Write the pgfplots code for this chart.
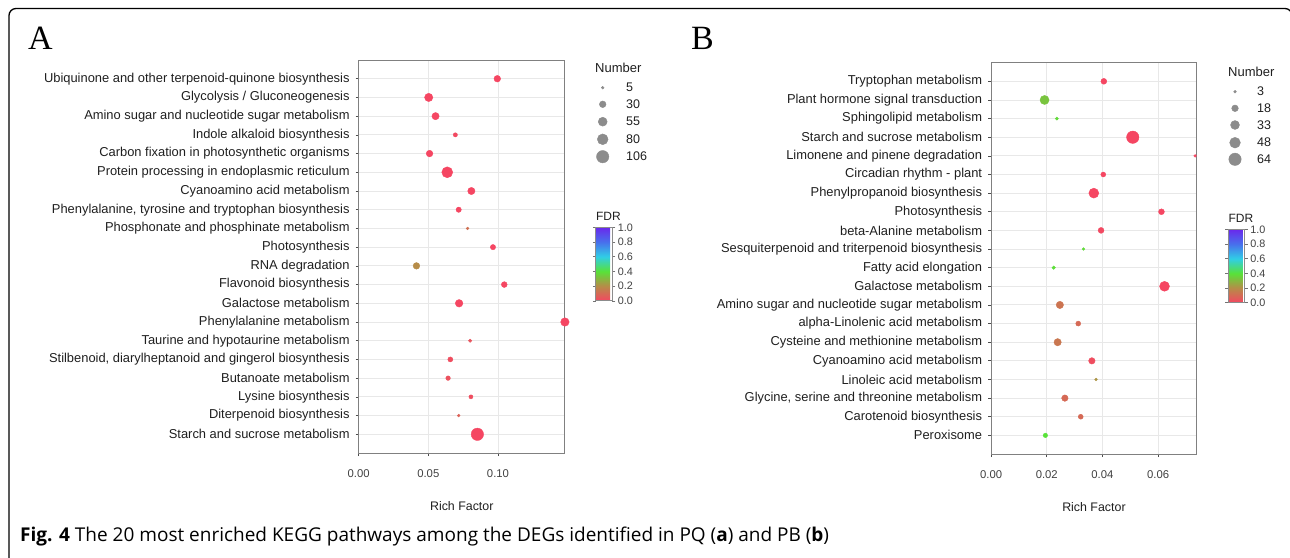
\documentclass[border=0pt]{standalone}
\usepackage{fontspec}
\setmainfont{Liberation Sans}
\newfontfamily\panelfont{Liberation Serif}
\newfontfamily\capfont{Open Sans}
\usepackage{pgfplots}
\usepackage{pgfplotstable}
\pgfplotsset{compat=1.18}

\pgfplotsset{colormap={fdr}{rgb255(0)=(245,70,98) rgb255(1)=(182,140,72) rgb255(2)=(88,226,56) rgb255(3)=(48,206,230) rgb255(4)=(72,112,236) rgb255(5)=(106,40,236)}}

\pgfplotstableread{
row rf n fdr
1 0.0995 30 0.0
2 0.0503 47 0.0
3 0.0552 36 0.0
4 0.0694 12 0.01
5 0.0509 30 0.0
6 0.0636 83 0.0
7 0.0809 36 0.0
8 0.0718 19 0.0
9 0.0782 5 0.12
10 0.0964 19 0.0
11 0.0415 30 0.2
12 0.1045 23 0.0
13 0.0721 39 0.0
14 0.148 49 0.0
15 0.080 7 0.04
16 0.0658 17 0.02
17 0.0642 14 0.03
18 0.0806 11 0.02
19 0.0718 5 0.08
20 0.0852 106 0.0
}\tabA

\pgfplotstableread{
row rf n fdr
1 0.0405 14 0.0
2 0.0192 34 0.33
3 0.0236 4 0.38
4 0.0509 64 0.0
5 0.0733 3 0.0
6 0.0403 10 0.0
7 0.0369 41 0.0
8 0.0612 14 0.0
9 0.0395 14 0.01
10 0.0332 3 0.38
11 0.0225 5 0.39
12 0.0623 41 0.0
13 0.0247 22 0.13
14 0.0313 10 0.1
15 0.0239 22 0.14
16 0.0362 17 0.02
17 0.0377 3 0.22
18 0.0265 17 0.1
19 0.0322 10 0.1
20 0.0195 8 0.4
}\tabB

\pgfplotstableread{
y n
-29.7 5
-46.3 30
-63.7 55
-81.3 80
-98.7 106
}\legA

\pgfplotstableread{
y n
-29.7 3
-46.3 18
-63.0 33
-80.7 48
-97.3 64
}\legB

\pgfplotsset{
  kegg/.style={
    scale only axis,
    y dir=reverse, ymin=0, ymax=21, ytick={1,...,20},
    grid=major,
    major grid style={draw=black!9, line width=0.9pt},
    axis line style={draw=black!50, line width=0.9pt},
    tick style={draw=black!70, line width=0.7pt},
    tick align=outside, major tick length=3pt,
    xtick pos=bottom, ytick pos=left,
    scaled x ticks=false,
    yticklabel style={font=\fontsize{12.9}{14}\selectfont, text=black!88, xshift=-2.5pt},
    xticklabel style={font=\fontsize{11.3}{12}\selectfont, text=black!75, yshift=-10pt},
    xlabel={Rich Factor},
    xlabel style={font=\fontsize{12.4}{14}\selectfont, text=black!88, at={(axis description cs:0.5,0)}, anchor=center, yshift=-53.5pt},
    colormap name=fdr, point meta min=0, point meta max=1,
    clip=false,
    colorbar,
  },
  cbar/.style={
    colorbar style={
      anchor=north west, at={(parent axis.north east)},
      width=16.5pt, height=73.5pt,
      axis line style={draw=black!45, line width=0.8pt},
      ytick={0,0.2,0.4,0.6,0.8,1}, yticklabels={0.0,0.2,0.4,0.6,0.8,1.0},
      yticklabel style={font=\fontsize{10.8}{12}\selectfont, text=black!75, xshift=-1pt},
      tick style={draw=black!55, line width=0.6pt}, major tick length=3pt,
      tick align=outside,
      title={FDR},
      title style={at={(0,1)}, anchor=south west, inner sep=0pt, xshift=0pt, yshift=1pt, font=\fontsize{12}{13}\selectfont, text=black!88},
      #1
    }
  },
  hidelegend/.style={
    hide axis, x=1pt, y=1pt, xmin=0, xmax=60, ymin=-110, ymax=0, anchor=north west, clip=false
  }
}

\begin{document}
\begin{tikzpicture}
\useasboundingbox (0pt,0pt) rectangle (1290pt,557pt);
\draw[line width=1.3pt, rounded corners=7pt] (9pt,-10pt) -- (9pt,548.5pt) -- (1292pt,548.5pt) -- (1292pt,-10pt);

\node[anchor=base west, inner sep=0pt, font=\panelfont\fontsize{34}{36}\selectfont] at (28pt,507pt) {A};
\node[anchor=base west, inner sep=0pt, font=\panelfont\fontsize{34}{36}\selectfont] at (691pt,507pt) {B};

% ---------- Panel A ----------
\begin{axis}[kegg, cbar={xshift=22.4pt, yshift=-167.3pt},
  at={(358.6pt,104pt)}, anchor=south west, width=206.3pt, height=393pt,
  xmin=0, xmax=0.148, xtick={0,0.05,0.10}, xticklabels={0.00,0.05,0.10},
  yticklabels={Ubiquinone and other terpenoid-quinone biosynthesis, Glycolysis / Gluconeogenesis, Amino sugar and nucleotide sugar metabolism, Indole alkaloid biosynthesis, Carbon fixation in photosynthetic organisms, Protein processing in endoplasmic reticulum, Cyanoamino acid metabolism, {Phenylalanine, tyrosine and tryptophan biosynthesis}, Phosphonate and phosphinate metabolism, Photosynthesis, RNA degradation, Flavonoid biosynthesis, Galactose metabolism, Phenylalanine metabolism, Taurine and hypotaurine metabolism, {Stilbenoid, diarylheptanoid and gingerol biosynthesis}, Butanoate metabolism, Lysine biosynthesis, Diterpenoid biosynthesis, Starch and sucrose metabolism}]
\addplot[scatter, only marks, mark=*, scatter src=explicit,
  visualization depends on={\thisrow{n} \as \nn},
  scatter/use mapped color={draw=mapped color, fill=mapped color},
  scatter/@pre marker code/.append style={/tikz/mark size={0.5*(2.8+9.6*(sqrt(\nn)-2.236)/(10.296-2.236))}}]
  table[x=rf, y=row, meta=fdr] {\tabA};
\end{axis}

% size legend A
\begin{axis}[hidelegend, at={(595pt,499pt)}]
\addplot[only marks, mark=*, scatter, point meta=0,
  visualization depends on={\thisrow{n} \as \nn},
  scatter/use mapped color={draw=black!45, fill=black!45},
  scatter/@pre marker code/.append style={/tikz/mark size={0.5*(2.8+9.6*(sqrt(\nn)-2.236)/(10.296-2.236))}}]
  table[x expr=7.7, y=y] {\legA};
\node[anchor=west, inner sep=0pt, font=\fontsize{13}{14}\selectfont, text=black!88] at (axis cs:0,-10) {Number};
\node[anchor=west, inner sep=0pt, font=\fontsize{12.5}{14}\selectfont, text=black!88] at (axis cs:31,-29.7) {5};
\node[anchor=west, inner sep=0pt, font=\fontsize{12.5}{14}\selectfont, text=black!88] at (axis cs:31,-46.3) {30};
\node[anchor=west, inner sep=0pt, font=\fontsize{12.5}{14}\selectfont, text=black!88] at (axis cs:31,-63.7) {55};
\node[anchor=west, inner sep=0pt, font=\fontsize{12.5}{14}\selectfont, text=black!88] at (axis cs:31,-81.3) {80};
\node[anchor=west, inner sep=0pt, font=\fontsize{12.5}{14}\selectfont, text=black!88] at (axis cs:31,-98.7) {106};
\end{axis}

% ---------- Panel B ----------
\begin{axis}[kegg, cbar={xshift=23pt, yshift=-166.6pt},
  at={(991.1pt,103pt)}, anchor=south west, width=205.7pt, height=391.3pt,
  xmin=0, xmax=0.0739, xtick={0,0.02,0.04,0.06}, xticklabels={0.00,0.02,0.04,0.06},
  yticklabels={Tryptophan metabolism, Plant hormone signal transduction, Sphingolipid metabolism, Starch and sucrose metabolism, Limonene and pinene degradation, Circadian rhythm - plant, Phenylpropanoid biosynthesis, Photosynthesis, beta-Alanine metabolism, Sesquiterpenoid and triterpenoid biosynthesis, Fatty acid elongation, Galactose metabolism, Amino sugar and nucleotide sugar metabolism, alpha-Linolenic acid metabolism, Cysteine and methionine metabolism, Cyanoamino acid metabolism, Linoleic acid metabolism, {Glycine, serine and threonine metabolism}, Carotenoid biosynthesis, Peroxisome}]
\addplot[scatter, only marks, mark=*, scatter src=explicit,
  visualization depends on={\thisrow{n} \as \nn},
  scatter/use mapped color={draw=mapped color, fill=mapped color},
  scatter/@pre marker code/.append style={/tikz/mark size={0.5*(2.8+9.6*(sqrt(\nn)-1.732)/(8-1.732))}}]
  table[x=rf, y=row, meta=fdr] {\tabB};
\end{axis}

% size legend B
\begin{axis}[hidelegend, at={(1228pt,495pt)}]
\addplot[only marks, mark=*, scatter, point meta=0,
  visualization depends on={\thisrow{n} \as \nn},
  scatter/use mapped color={draw=black!45, fill=black!45},
  scatter/@pre marker code/.append style={/tikz/mark size={0.5*(2.8+9.6*(sqrt(\nn)-1.732)/(8-1.732))}}]
  table[x expr=7, y=y] {\legB};
\node[anchor=west, inner sep=0pt, font=\fontsize{13}{14}\selectfont, text=black!88] at (axis cs:0,-10) {Number};
\node[anchor=west, inner sep=0pt, font=\fontsize{12.5}{14}\selectfont, text=black!88] at (axis cs:29,-29.7) {3};
\node[anchor=west, inner sep=0pt, font=\fontsize{12.5}{14}\selectfont, text=black!88] at (axis cs:29,-46.3) {18};
\node[anchor=west, inner sep=0pt, font=\fontsize{12.5}{14}\selectfont, text=black!88] at (axis cs:29,-63.0) {33};
\node[anchor=west, inner sep=0pt, font=\fontsize{12.5}{14}\selectfont, text=black!88] at (axis cs:29,-80.7) {48};
\node[anchor=west, inner sep=0pt, font=\fontsize{12.5}{14}\selectfont, text=black!88] at (axis cs:29,-97.3) {64};
\end{axis}

\node[anchor=base west, inner sep=0pt, font=\capfont\fontsize{19}{22}\selectfont] at (20pt,15.3pt) {\textbf{Fig. 4} The 20 most enriched KEGG pathways among the DEGs identified in PQ (\textbf{a}) and PB (\textbf{b})};
\end{tikzpicture}
\end{document}
